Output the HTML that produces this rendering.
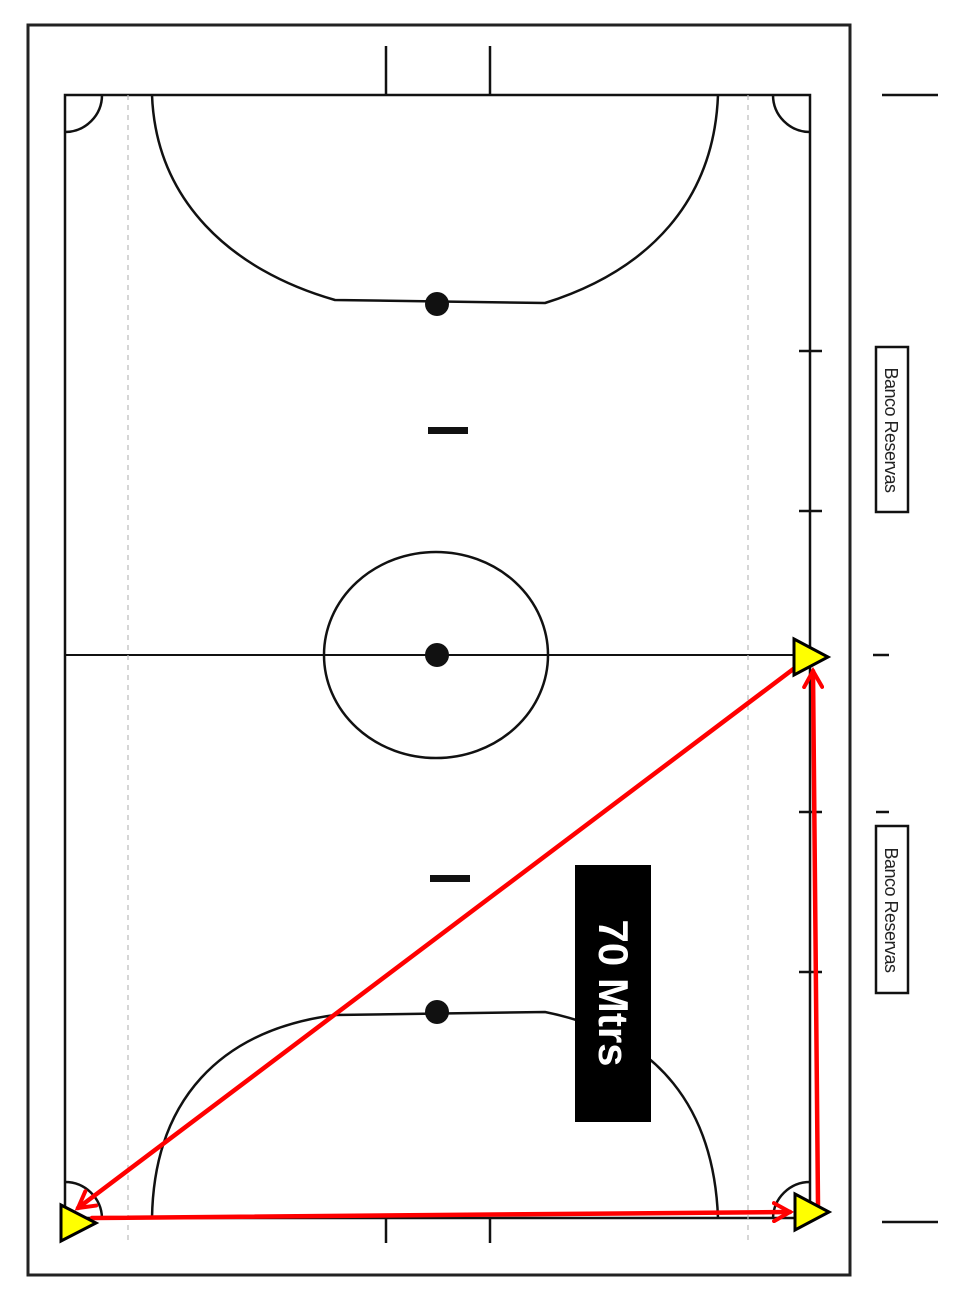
<!DOCTYPE html>
<html><head><meta charset="utf-8"><style>
html,body{margin:0;padding:0;background:#fff;}
svg{display:block;}
</style></head><body>
<svg width="971" height="1304" viewBox="0 0 971 1304" xmlns="http://www.w3.org/2000/svg">
<defs>
<marker id="ah" markerWidth="22" markerHeight="22" refX="18" refY="11" orient="auto" markerUnits="userSpaceOnUse" viewBox="0 0 22 22">
<path d="M2,2 L18,11 L2,20" fill="none" stroke="#f00" stroke-width="4" stroke-linecap="round"/>
</marker>
</defs>
<rect x="0" y="0" width="971" height="1304" fill="#fff"/>
<rect x="28" y="25" width="822" height="1250" fill="none" stroke="#222" stroke-width="3"/>
<g fill="none" stroke="#111" stroke-width="2.5">
<rect x="65" y="95" width="745" height="1123"/>
<line x1="65" y1="655" x2="810" y2="655" stroke-width="2"/>
<ellipse cx="436" cy="655" rx="112" ry="103"/>
<line x1="386" y1="46" x2="386" y2="95"/>
<line x1="490" y1="46" x2="490" y2="95"/>
<line x1="386" y1="1218" x2="386" y2="1243"/>
<line x1="490" y1="1218" x2="490" y2="1243"/>
<path d="M152,95 C156,200 230,270 335,300 L545,303 C650,270 714,200 718,95"/>
<path d="M152,1218 C154,1100 220,1030 335,1015 L545,1012 C660,1035 714,1110 718,1218"/>
<path d="M65,132 A37,37 0 0 0 102,95"/>
<path d="M773,95 A37,37 0 0 0 810,132"/>
<path d="M65,1182 A37,37 0 0 1 102,1218"/>
<path d="M773,1218 A37,37 0 0 1 810,1182"/>
<line x1="799" y1="351" x2="822" y2="351"/>
<line x1="799" y1="511" x2="822" y2="511"/>
<line x1="799" y1="812" x2="822" y2="812"/>
<line x1="799" y1="972" x2="822" y2="972"/>
<line x1="882" y1="95" x2="938" y2="95"/>
<line x1="873" y1="655" x2="889" y2="655"/>
<line x1="876" y1="812" x2="889" y2="812"/>
<line x1="882" y1="1222" x2="938" y2="1222"/>
</g>
<g stroke="#bbb" stroke-width="1.2" stroke-dasharray="5,5">
<line x1="128" y1="95" x2="128" y2="1240"/>
<line x1="748" y1="95" x2="748" y2="1240"/>
</g>
<circle cx="437" cy="304" r="12" fill="#111"/>
<circle cx="437" cy="655" r="12" fill="#111"/>
<circle cx="437" cy="1012" r="12" fill="#111"/>
<rect x="428" y="427" width="40" height="7" fill="#111"/>
<rect x="430" y="875" width="40" height="7" fill="#111"/>
<g>
<rect x="876" y="347" width="32" height="165" fill="#fff" stroke="#111" stroke-width="2.5"/>
<text x="0" y="0" transform="translate(885,430) rotate(90)" text-anchor="middle" font-family="Liberation Sans, sans-serif" font-size="18" letter-spacing="-0.5" fill="#222">Banco Reservas</text>
</g>
<g>
<rect x="876" y="826" width="32" height="167" fill="#fff" stroke="#111" stroke-width="2.5"/>
<text x="0" y="0" transform="translate(885,910) rotate(90)" text-anchor="middle" font-family="Liberation Sans, sans-serif" font-size="18" letter-spacing="-0.5" fill="#222">Banco Reservas</text>
</g>
<g>
<rect x="575" y="865" width="76" height="257" fill="#000"/>
<text transform="translate(599,993) rotate(90)" text-anchor="middle" font-family="Liberation Sans, sans-serif" font-weight="bold" font-size="42" fill="#fff">70 Mtrs</text>
</g>
<g stroke="#f00" stroke-width="4.5" fill="none" stroke-linecap="round">
<line x1="800" y1="664" x2="78" y2="1208" marker-end="url(#ah)"/>
<line x1="818" y1="1205" x2="813" y2="671" marker-end="url(#ah)"/>
<line x1="92" y1="1218" x2="790" y2="1212" marker-end="url(#ah)"/>
</g>
<g fill="#ff0" stroke="#000" stroke-width="3" stroke-linejoin="miter">
<polygon points="794,639 828,657 794,675"/>
<polygon points="795,1194 829,1212 795,1230"/>
<polygon points="61,1205 96,1223 61,1241"/>
</g>
</svg>
</body></html>
